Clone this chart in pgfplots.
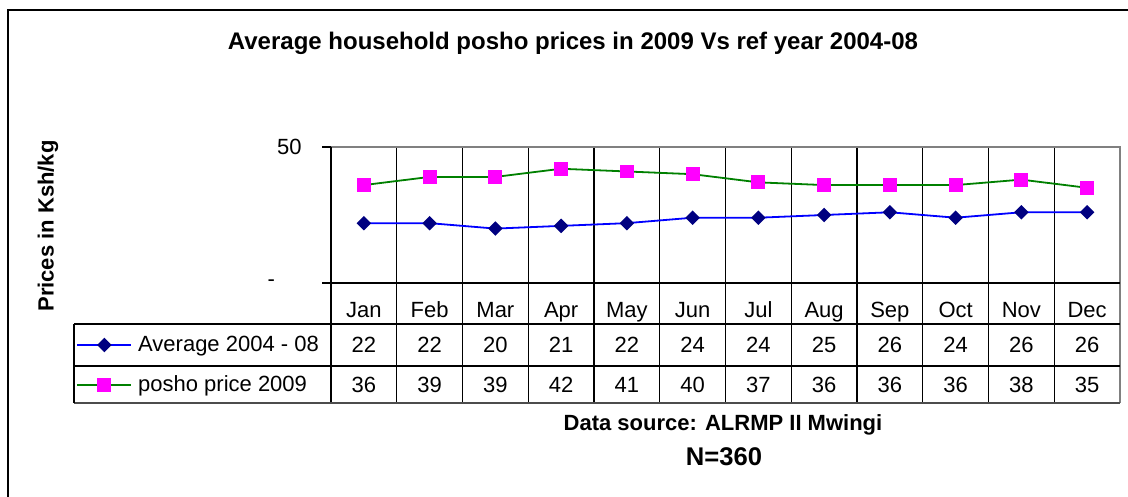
\documentclass[border=0pt]{standalone}
\usepackage{pgfplots}
\pgfplotsset{compat=1.18}
\usepackage{fontspec}
\setmainfont{Liberation Sans}
\definecolor{navy}{RGB}{0,0,128}
\definecolor{mag}{RGB}{255,0,255}
\definecolor{dgreen}{RGB}{0,128,0}
\definecolor{lblue}{RGB}{0,0,255}
\begin{document}
\begin{tikzpicture}[x=0.5pt,y=0.5pt]
\useasboundingbox (0,0) rectangle (1128,497);
\draw[line width=1pt] (8,-4) -- (8,487) -- (1132,487);
% table grid
\foreach \k in {1,...,11} \draw[line width=0.6pt] ({331+65.75*\k},350) -- ({331+65.75*\k},94);
\draw[gray, line width=0.9pt] (331,350) -- (1120,350) -- (1120,94);
\draw[line width=0.9pt] (331,350) -- (331,94);
\draw[line width=0.9pt] (331,214) -- (1120,214);
\draw[line width=0.6pt] (74,173) -- (1120,173);
\draw[line width=0.6pt] (74,131) -- (1120,131);
\draw[gray!60!black,line width=0.8pt] (74,94) -- (1120,94);
\draw[line width=0.6pt] (74,173) -- (74,94);
\begin{axis}[
  at={(165.5pt,107pt)}, anchor=south west,
  scale only axis, width=394.5pt, height=68pt,
  xmin=0.5, xmax=12.5, ymin=0, ymax=50,
  axis line style={draw=none},
  ytick={0,50}, yticklabels={\makebox[17pt][l]{-},50},
  ytick pos=left, tick align=outside, major tick length=4.5pt,
  tick style={black, line width=0.6pt},
  xtick={1,...,12},
  xticklabels={Jan,Feb,Mar,Apr,May,Jun,Jul,Aug,Sep,Oct,Nov,Dec},
  xtick style={draw=none},
  xticklabel style={anchor=base, yshift=-13pt},
  yticklabel style={anchor=east, inner sep=0pt, xshift=-10pt},
  ticklabel style={font=\fontsize{11}{13}\selectfont},
  clip=false,
  legend style={at={(-0.3232,-0.603)}, anchor=west, draw=none, fill=none,
    inner sep=0pt, row sep=10pt, column sep=3pt,
    nodes={inner sep=0pt, text height=8pt, text depth=2pt},
    font=\fontsize{11}{13}\selectfont},
  legend cell align=left,
  legend image code/.code={\draw[mark repeat=2,mark phase=2,#1] plot coordinates {(0pt,0pt) (13.5pt,0pt) (27pt,0pt)};},
]
\addplot[lblue, line width=0.9pt, mark=diamond*, mark size=3pt,
  mark options={fill=navy, draw=navy, xscale=1.33}]
  coordinates {(1,22) (2,22) (3,20) (4,21) (5,22) (6,24) (7,24) (8,25) (9,26) (10,24) (11,26) (12,26)};
\addlegendentry{Average 2004 - 08}
\addplot[dgreen, line width=0.9pt, mark=square*, mark size=3pt,
  mark options={fill=mag, draw=mag}]
  coordinates {(1,36) (2,39) (3,39) (4,42) (5,41) (6,40) (7,37) (8,36) (9,36) (10,36) (11,38) (12,35)};
\addlegendentry{posho price 2009}
\end{axis}
\foreach \v [count=\i] in {22,22,20,21,22,24,24,25,26,24,26,26}
  \node[font=\fontsize{11}{13}\selectfont] at ({331+65.75*(\i-0.5)},152) {\v};
\foreach \v [count=\i] in {36,39,39,42,41,40,37,36,36,36,38,35}
  \node[font=\fontsize{11}{13}\selectfont] at ({331+65.75*(\i-0.5)},112) {\v};
\node[font=\bfseries\fontsize{12}{14}\selectfont] at (573,454) {Average household posho prices in 2009 Vs ref year 2004-08};
\node[font=\bfseries\fontsize{11}{13}\selectfont, rotate=90] at (48,271) {Prices in Ksh/kg};
\node[font=\bfseries\fontsize{11}{13}\selectfont] at (723,72) {Data source: ALRMP II Mwingi};
\node[font=\bfseries\fontsize{12.8}{15}\selectfont] at (724,40) {N=360};
\end{tikzpicture}
\end{document}
